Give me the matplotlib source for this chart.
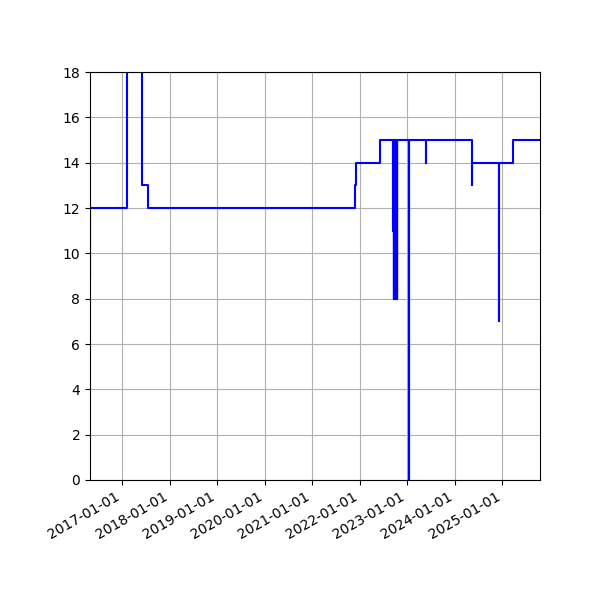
import matplotlib
matplotlib.use("Agg")
import matplotlib.pyplot as plt
import matplotlib.dates as mdates
import numpy as np
import pandas as pd

# Step levels: date from which a level holds
level_dates = ["2016-04-28", "2016-04-29", "2017-02-06", "2017-06-03", "2017-06-04",
               "2017-07-19", "2021-11-29", "2021-11-30", "2022-06-09",
               "2024-05-14", "2024-05-15", "2025-03-22", "2025-10-18"]
level_values = [9, 12, 20, 15, 13, 12, 13, 14, 15, 13, 14, 15, 15]

# One-day dips: date and value on that day
dip_dates = ["2022-09-10", "2022-09-19", "2022-09-22", "2022-09-25", "2022-09-28",
             "2022-10-01", "2022-10-04", "2022-10-07", "2022-10-10", "2022-10-13",
             "2022-10-16", "2023-01-13", "2023-05-27", "2024-12-09"]
dip_values = [11, 8, 8, 8, 8, 8, 8, 8, 8, 8, 8, 0, 14, 7]

y_ticks = [0, 2, 4, 6, 8, 10, 12, 14, 16, 18]

lv = pd.Series(level_values, index=pd.to_datetime(level_dates)).sort_index()
pts = [(d, v) for d, v in lv.items()]
for d, v in zip(pd.to_datetime(dip_dates), dip_values):
    base = lv[lv.index <= d].iloc[-1]
    pts.append((d, v))
    pts.append((d + pd.Timedelta(days=1), base))
pts.sort(key=lambda p: p[0])
xs = [p[0] for p in pts]
ys = [p[1] for p in pts]

fig, ax = plt.subplots(figsize=(6, 6), dpi=100)
ax.plot(xs, ys, color="blue", lw=1.5, drawstyle="steps-post")
ax.set_xlim(pd.Timestamp(level_dates[0]), pd.Timestamp(level_dates[-1]))
ax.set_ylim(0, 18)
ax.set_yticks(y_ticks)
ax.xaxis.set_major_locator(mdates.YearLocator())
ax.xaxis.set_major_formatter(mdates.DateFormatter("%Y-%m-%d"))
ax.grid(True)
fig.autofmt_xdate()
fig.subplots_adjust(left=0.15, right=0.9, top=0.88, bottom=0.2)
fig.savefig("out.png", dpi=100)
